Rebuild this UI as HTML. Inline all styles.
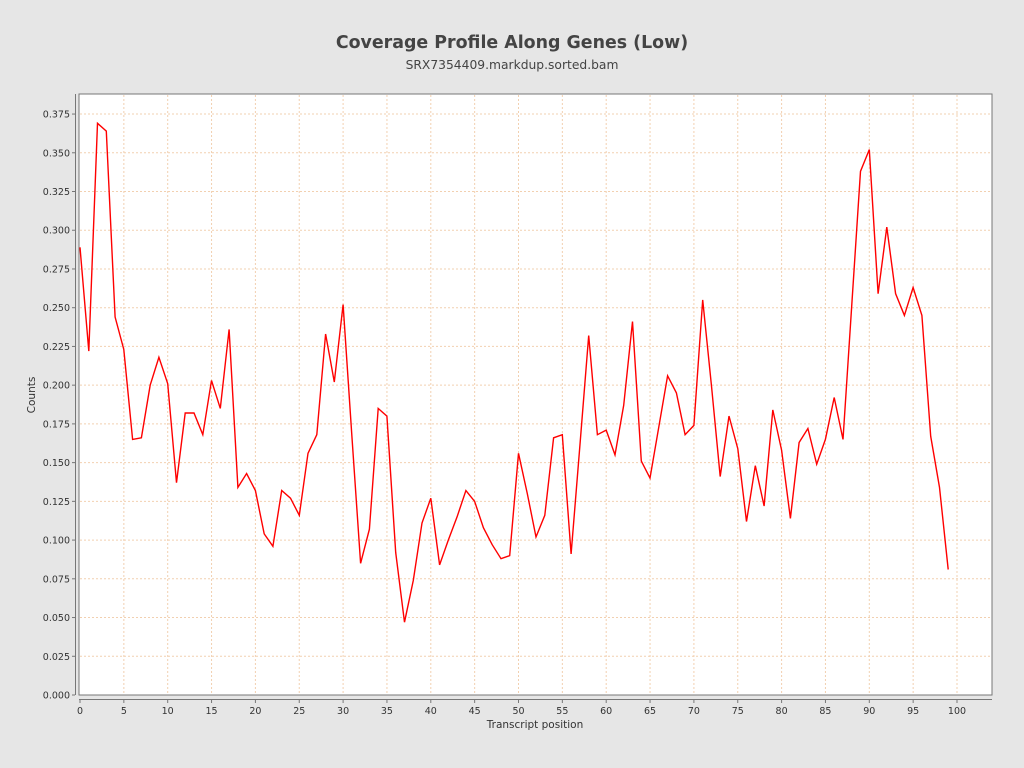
<!DOCTYPE html>
<html><head><meta charset="utf-8"><style>
body{margin:0;background:#e6e6e6;}
svg{display:block;font-family:"DejaVu Sans","Liberation Sans",sans-serif;}
</style></head><body>
<svg id="s" width="1024" height="768" xmlns="http://www.w3.org/2000/svg">
<rect width="1024" height="768" fill="#e6e6e6"/>
<text x="512" y="48" text-anchor="middle" font-size="17.4" font-weight="bold" fill="#444">Coverage Profile Along Genes (Low)</text>
<text x="512" y="69" text-anchor="middle" font-size="12.3" fill="#444">SRX7354409.markdup.sorted.bam</text>
<rect x="79" y="94" width="913" height="601" fill="#fff" stroke="#777" stroke-width="1"/>
<g id="g"></g>
<text x="535" y="728" text-anchor="middle" font-size="10.5" fill="#333">Transcript position</text>
<text transform="translate(35,395) rotate(-90)" text-anchor="middle" font-size="10.5" fill="#333">Counts</text>
</svg>
<script>
var d=[0.289,0.222,0.369,0.364,0.244,0.223,0.165,0.166,0.2,0.218,0.201,0.137,0.182,0.182,0.168,0.203,0.185,0.236,0.134,0.143,0.132,0.104,0.096,0.132,0.127,0.116,0.156,0.168,0.233,0.202,0.252,0.167,0.085,0.107,0.185,0.18,0.092,0.047,0.074,0.111,0.127,0.084,0.1,0.115,0.132,0.125,0.108,0.097,0.088,0.09,0.156,0.13,0.102,0.116,0.166,0.168,0.091,0.161,0.232,0.168,0.171,0.155,0.187,0.241,0.151,0.14,0.173,0.206,0.195,0.168,0.174,0.255,0.2,0.141,0.18,0.159,0.112,0.148,0.122,0.184,0.158,0.114,0.163,0.172,0.149,0.165,0.192,0.165,0.252,0.338,0.352,0.259,0.302,0.259,0.245,0.263,0.245,0.167,0.134,0.081];
function X(i){return 80+i*8.77}function Y(v){return 695-v*1549.3}
var h='';
for(var i=0;i<=100;i+=5){var x=X(i);
if(i>0)h+='<line x1="'+x+'" y1="95" x2="'+x+'" y2="695" stroke="#f2d0b0" stroke-dasharray="2,2"/>';
h+='<line x1="'+x+'" y1="699" x2="'+x+'" y2="703" stroke="#777"/>';
h+='<text x="'+x+'" y="714" text-anchor="middle" font-size="9.5" fill="#333">'+i+'</text>';}
for(var k=0;k<=15;k++){var y=695-k*38.73;
if(k>0)h+='<line x1="80" y1="'+y+'" x2="991" y2="'+y+'" stroke="#f2d0b0" stroke-dasharray="2,2"/>';
h+='<line x1="72" y1="'+y+'" x2="75" y2="'+y+'" stroke="#777"/>';
h+='<text x="70" y="'+(y+3.5)+'" text-anchor="end" font-size="9.5" fill="#333">'+(k*0.025).toFixed(3)+'</text>';}
h+='<line x1="75.5" y1="94" x2="75.5" y2="695" stroke="#777"/>';
h+='<line x1="79" y1="699.5" x2="992" y2="699.5" stroke="#777"/>';
var p=d.map(function(v,i){return X(i).toFixed(1)+','+Y(v).toFixed(1)}).join(' ');
h+='<polyline points="'+p+'" fill="none" stroke="#f00" stroke-width="1.4"/>';
document.getElementById('g').innerHTML=h;
</script>
</body></html>
